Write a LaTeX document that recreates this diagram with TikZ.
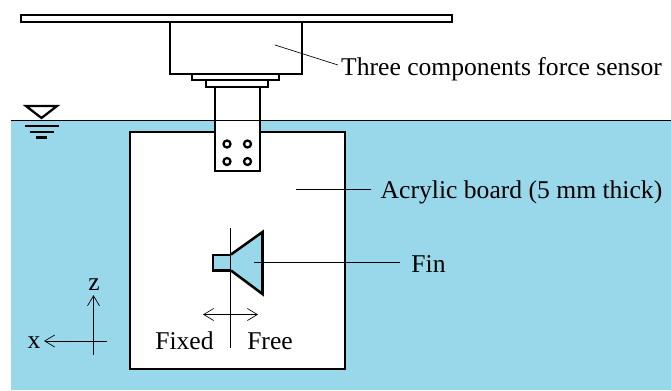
\documentclass[tikz,border=0pt]{standalone}
\usepackage{fontspec}
\setmainfont{Liberation Serif}
\usepackage{xcolor}
\usetikzlibrary{arrows.meta, positioning}
\definecolor{waterblue}{HTML}{99D8EA}

\begin{document}
\begin{tikzpicture}[
			x=0.75pt, y=-0.75pt,
			label/.style={inner sep=0pt, font=\fontsize{19.2}{21}\selectfont},
			part/.style={draw=black, line width=1.7pt, fill=white},
			finpart/.style={draw=black, line width=1.9pt, fill=waterblue, line join=miter},
			thinline/.style={draw=black, line width=0.5pt},
			arrow/.style={thinline, -{Straight Barb[length=7.5pt, width=9pt]}},
			biarrow/.style={thinline, {Straight Barb[length=7.5pt, width=9pt]}-{Straight Barb[length=7.5pt, width=9pt]}}
			]
			\useasboundingbox (0,0) rectangle (671,390);
			
			% Water
			\fill [waterblue] (11,120.5) rectangle (671,390);
			\draw [part] (130,132) rectangle (345,369);
			
			% Mounting
			\draw [part] (21,15) rectangle (452,22);
			\draw [part] (170,22) rectangle (302,74);
			\draw [part] (192,74) rectangle (279,80);
			\draw [part] (206,80) rectangle (268,87);
			\draw [part] (215,87) rectangle (260,171);
			\draw [thinline, line width=0.7pt] (11,120.5) -- (671,120.5);
			\foreach \holex in {227,247.5}
				\foreach \holey in {144,161.5}
					\draw [part] (\holex,\holey) circle (3.5);
			
			% Water level mark
			\draw [part, fill=none, line join=miter] (26,106) -- (57,106) -- (41.5,118) -- cycle;
			\draw [part, fill=none] (25,126) -- (59,126);
			\draw [part, fill=none] (30,132) -- (54,132);
			\draw [part, fill=none] (36,137.5) -- (47,137.5);
			
			% Fin
			\draw [finpart] (231,255) -- (213,255) -- (213,270.5) -- (231,270.5);
			\fill [waterblue] (231,254.5) -- (262.5,232) -- (262.5,294) -- (231,270.5) -- cycle;
			\draw [finpart, fill=none] (231,254.5) -- (262.5,232) -- (262.5,294) -- (231,270.5);
			\draw [thinline] (230.5,228) -- (230.5,348);
			
			% Nodes
			\node (sensor) [label] at (501.5,69) {Three components force sensor};
			\node (board) [label] at (521.5,192) {Acrylic board (5 mm thick)};
			\node (fin) [label] at (428.5,264) {Fin};
			\node (fixed) [label] at (184.5,341) {Fixed};
			\node (free) [label] at (270,341) {Free};
			\node (xlabel) [label] at (34,343) {x};
			\node (zlabel) [label] at (94,285) {z};
			\coordinate (sensor_end) at (275,45);
			\coordinate (board_end) at (296,189);
			\coordinate (fin_end) at (254,262);
			\coordinate (move_left) at (203,314.5);
			\coordinate (move_right) at (258,314.5);
			\coordinate (xtail) at (107,341);
			\coordinate (ztail) at (93.5,355);
			
			% Connections
			\draw [thinline] (sensor.west) ++(-3,-4) -- (sensor_end);
			\draw [thinline] (board.west) ++(-9,-3) -- (board_end);
			\draw [thinline] (fin.west) ++(-11,-2) -- (fin_end);
			\draw [biarrow] (move_left) -- (move_right);
			\draw [arrow] (xtail) -- (44,341);
			\draw [arrow, shorten >=3pt] (ztail) -- (zlabel.south -| ztail);
			
		\end{tikzpicture}
\end{document}
